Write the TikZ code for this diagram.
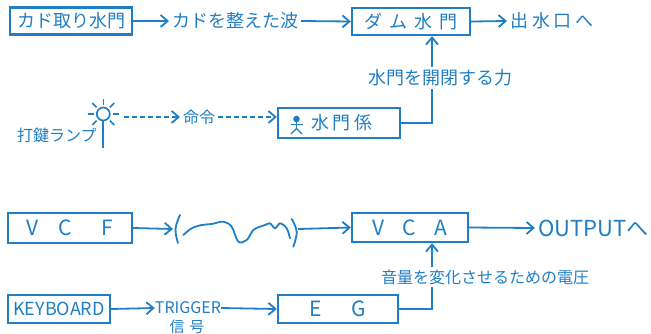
\documentclass[tikz,border=0pt]{standalone}
\usepackage{fontspec}
\setmainfont{Noto Sans CJK JP}
\usetikzlibrary{arrows.meta}
\definecolor{ink}{HTML}{1F7EC4}

\begin{document}
\begin{tikzpicture}[x=1pt,y=-1pt,
  every node/.style={text=ink, inner sep=0pt, font=\fontsize{18}{18}\selectfont},
  blk/.style={draw=ink, line width=2.4pt},
  wire/.style={draw=ink, line width=1.8pt},
  link/.style={wire, -{Straight Barb[length=7pt,width=12pt,line width=1.8pt]}},
  dlink/.style={link, dash pattern=on 5pt off 3pt},
  lbl/.style={outer sep=3pt},
  txt/.style={outer sep=3pt},
]
\useasboundingbox (0,0) rectangle (651,333);

% ---------- water gate analogy ----------
\node[blk, minimum width=122pt, minimum height=27pt] (cut) at (71,21) {カド取り水門};
\node[txt, anchor=west] (wave1) at (169,21) {カドを整えた波};
\node[blk, minimum width=118pt, minimum height=27pt] (dam) at (411,21.5)
  {ダ\hspace{7pt}ム\hspace{7pt}水\hspace{7pt}門};
\node[txt, anchor=west] (exit) at (507,21) {出\hspace{4pt}水\hspace{4pt}口\hspace{4pt}へ};

\draw[link] (cut.east) -- (wave1.west);
\draw[link] (wave1.east) -- (dam.west);
\draw[link] (dam.east) -- (exit.west);

% gate keeper box with a little stick figure
\node[blk, minimum width=122pt, minimum height=30pt] (gate) at (339,123) {};
\node (gatetxt) at (342,123) {水\hspace{4pt}門\hspace{4pt}係};
\begin{scope}[ink, line width=1.4pt]
  \fill (296.5,119) circle (3.3pt);
  \draw (296.5,121) -- (296.5,128.5);
  \draw (290.5,124.5) -- (302.5,124.5);
  \draw (291,134) -- (296.5,128.5) -- (302,134);
\end{scope}

% lamp
\node[draw=ink, line width=1.7pt, circle, minimum size=13pt] (sun) at (103.3,114) {};
\foreach \a in {0,45,...,315}
  \draw[wire, line width=1.5pt] (sun.center) ++(\a:9.5pt) -- ++(\a:6pt);
\coordinate (stem) at (103.3,148);
\draw[wire] (sun.south) -- (stem);
\node[anchor=west, font=\fontsize{16}{16}\selectfont] (lamp) at (17,135) {打鍵ランプ};

\node[txt, font=\fontsize{16}{16}\selectfont] (cmd) at (199,117) {命令};
\draw[dlink] (124,117) -- (cmd.west);
\draw[dlink] (cmd.east) -- (gate.west |- cmd.east);

% force on the gate
\coordinate (j1) at (432,0);
\node[lbl] (force) at (440,78) {水門を開閉する力};
\draw[wire] (gate.east) -- (gate.east -| j1) -- (j1 |- force.south);
\draw[link] (j1 |- force.north) -- (j1 |- dam.south);

% ---------- synthesizer ----------
\node[blk, minimum width=124pt, minimum height=30pt, font=\fontsize{21}{21}\selectfont] (vcf) at (70,228)
  {V\hspace{20pt}C\hspace{30pt}F};
\coordinate (wl) at (173,229);
\coordinate (wr) at (298,229);
\draw[link] (vcf.east) -- (wl);

% filtered waveform in brackets
\begin{scope}[ink, line width=1.8pt, line cap=round]
  \draw plot[smooth, tension=0.7] coordinates {(180,215) (175.5,229) (178,243)};
  \draw plot[smooth, tension=0.55] coordinates {
    (183.3,235) (191.7,228.3) (201.7,225) (211.7,224) (223.3,221.7) (231.7,226.7)
    (238.3,241.7) (246.7,240) (253.3,230) (260,226.7) (265,225) (270,223.3)
    (275,228.3) (280,223.3) (286.7,228.3) (290,238.3)};
  \draw plot[smooth, tension=0.7] coordinates {(291.7,219) (296.7,231.7) (293.3,246.7)};
\end{scope}

\node[blk, minimum width=116pt, minimum height=29pt, font=\fontsize{21}{21}\selectfont] (vca) at (410,227.5)
  {V\hspace{18pt}C\hspace{18pt}A};
\draw[link] (wr) -- (vca.west);
\node[txt, anchor=west, font=\fontsize{22}{22}\selectfont] (output) at (535,228) {OUTPUTへ};
\draw[link] (vca.east) -- (output.west);

\node[blk, minimum width=102pt, minimum height=28pt, font=\fontsize{18}{18}\selectfont] (kbd) at (59,309) {KEYBOARD};
\node[font=\fontsize{16}{16}\selectfont] (trig) at (188,308) {TRIGGER};
\node[font=\fontsize{15}{15}\selectfont] (sig) at (187,327) {信\hspace{5pt}号};
\node[blk, minimum width=120pt, minimum height=28pt, font=\fontsize{21}{21}\selectfont] (eg) at (338,309)
  {E\hspace{30pt}G};
\draw[link] (kbd.east) -- (trig.west);
\draw[link] (trig.east) -- (eg.west);

\coordinate (j2) at (432,0);
\node[lbl, font=\fontsize{16}{16}\selectfont] (volt) at (485,277) {音量を変化させるための電圧};
\draw[wire] (eg.east) -- (eg.east -| j2) -- (j2 |- volt.south);
\draw[link] (j2 |- volt.north) -- (j2 |- vca.south);
\end{tikzpicture}
\end{document}
